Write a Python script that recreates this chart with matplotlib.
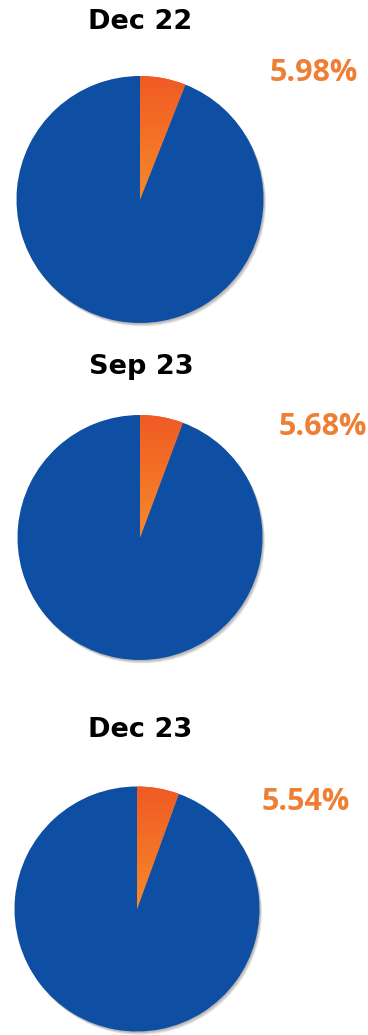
import numpy as np
import matplotlib
matplotlib.use("Agg")
import matplotlib.pyplot as plt
from matplotlib.patches import Circle
from matplotlib.colors import LinearSegmentedColormap

# Share of the orange segment for each period
periods = ["Dec 22", "Sep 23", "Dec 23"]
share_pct = [5.98, 5.68, 5.54]

W, H = 368, 1035
BLUE = "#0E4FA3"
LABEL_ORANGE = "#EE7F34"
grad = LinearSegmentedColormap.from_list("seg", ["#F7892A", "#F05A24"])

fig = plt.figure(figsize=(W / 100, H / 100), dpi=100)
fig.patch.set_facecolor("white")

# pixel layout: (centre x, centre y, radius, title x, title baseline, label x, label baseline)
layout = [
    (140, 199.5, 123.5, 140, 29, 314, 81),
    (140, 537.5, 122.5, 141.5, 374, 322.5, 435),
    (137, 909.0, 122.5, 140, 737, 305.5, 810),
]

pad = 1.08
for name, pct, (cx, cy, r, tx, ty, lx, ly) in zip(periods, share_pct, layout):
    half = r * pad
    ax = fig.add_axes([(cx - half) / W, 1 - (cy + half) / H, 2 * half / W, 2 * half / H])
    ax.axis("off")

    # soft drop shadow towards the lower right
    for k in range(6):
        ax.add_patch(Circle((0.006 + 0.003 * k, -0.009 - 0.004 * k), 1.0,
                            color="black", alpha=0.05, lw=0, zorder=0))

    wedges, _ = ax.pie([pct, 100 - pct], colors=["#F05A24", BLUE], startangle=90,
                       counterclock=False, radius=1.0, frame=False,
                       wedgeprops=dict(linewidth=0))

    # vertical gradient inside the small segment
    g = np.linspace(0, 1, 256).reshape(-1, 1)
    im = ax.imshow(g, cmap=grad, extent=[0, 1, 0, 1], origin="lower",
                   aspect="auto", zorder=3)
    im.set_clip_path(wedges[0])
    ax.set_xlim(-pad, pad)
    ax.set_ylim(-pad, pad)
    ax.set_aspect("equal")

    fig.text(tx / W, 1 - ty / H, name, ha="center", va="baseline",
             fontsize=19.5, fontweight="bold", family="DejaVu Sans", color="black")
    fig.text(lx / W, 1 - ly / H, f"{pct:.2f}%", ha="center", va="baseline",
             fontsize=22, fontweight="bold", family="Open Sans", color=LABEL_ORANGE)

fig.savefig("out.png", dpi=100, facecolor="white")
